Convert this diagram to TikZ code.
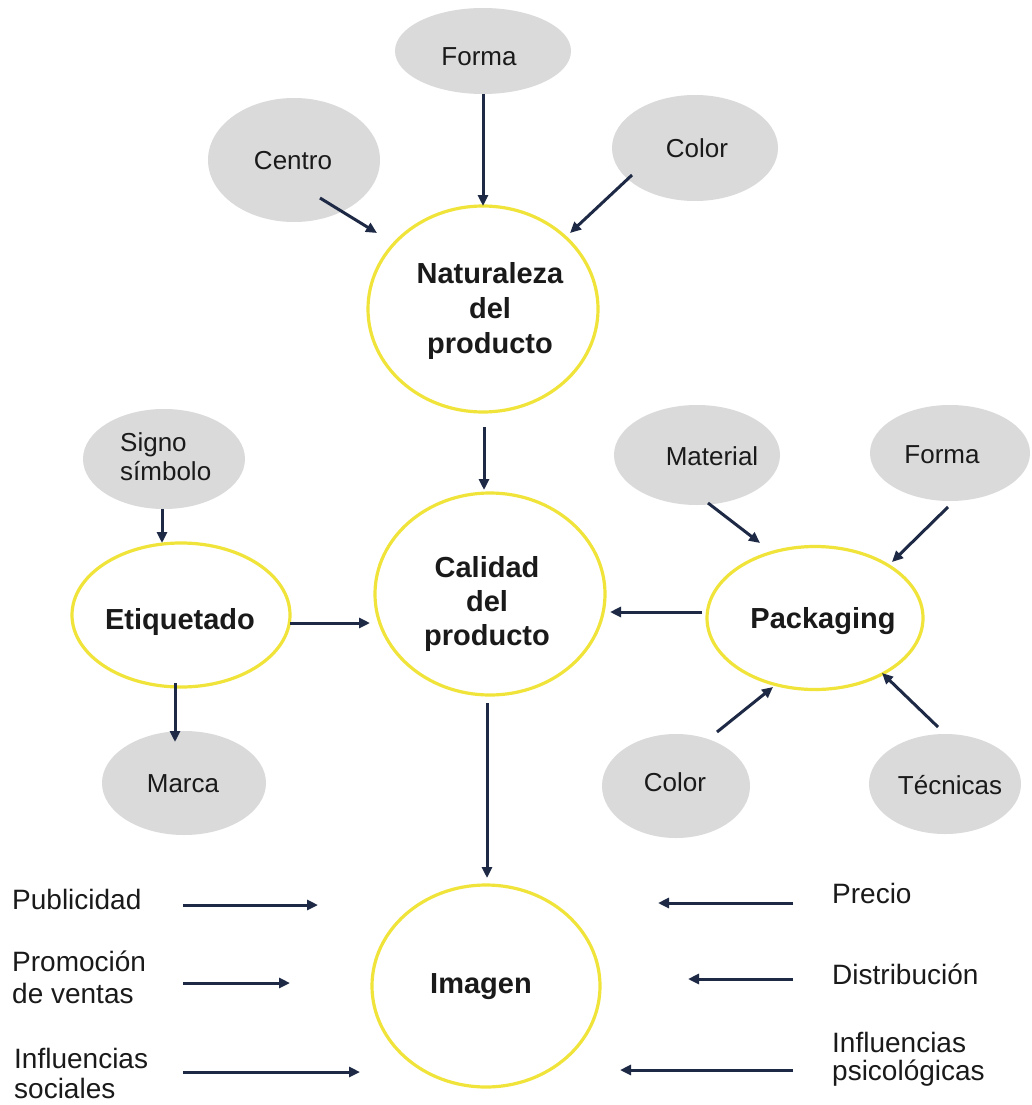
\documentclass[tikz,border=0pt]{standalone}
\usepackage{fontspec}
\setmainfont{Liberation Sans}
\usetikzlibrary{arrows.meta,shapes.geometric}

\definecolor{ringyellow}{HTML}{F0E43A}
\definecolor{bubblegrey}{HTML}{DADADA}
\definecolor{arrownavy}{HTML}{1E2A45}
\definecolor{inkblack}{HTML}{1A1A1A}

\tikzset{
  ring/.style={ellipse, draw=ringyellow, line width=3.2pt, inner sep=0pt, outer sep=0pt},
  bubble/.style={ellipse, fill=bubblegrey, inner sep=0pt, outer sep=0pt},
  arr/.style={draw=arrownavy, line width=3pt, -{Triangle[length=11pt,width=10pt]}},
  lbl/.style={inner sep=0pt, text=inkblack, font=\fontsize{26}{30}\selectfont,
              text height=18.7pt, text depth=0pt},
  lblmulti/.style={inner sep=0pt, text=inkblack, align=left},
  boldlbl/.style={inner sep=0pt, text=inkblack, font=\bfseries\fontsize{29}{35}\selectfont,
                  text height=20.9pt, text depth=0pt},
  boldmulti/.style={inner sep=0pt, text=inkblack, align=center},
  sidelbl/.style={inner sep=0pt, text=inkblack, align=left, anchor=base west}
}

\begin{document}
\begin{tikzpicture}[x=1pt, y=-1pt]
  \useasboundingbox[fill=white] (0,0) rectangle (1031,1105);

  % ---- main rings ----
  \node[ring, minimum width=230pt, minimum height=206pt] (nat)  at (483,309) {};
  \node[ring, minimum width=230pt, minimum height=202pt] (cal)  at (490,594) {};
  \node[ring, minimum width=218pt, minimum height=144pt] (etiq) at (181,615) {};
  \node[ring, minimum width=216pt, minimum height=143pt] (pack) at (815,618) {};
  \node[ring, minimum width=228pt, minimum height=202pt] (img)  at (486,986) {};

  % ---- grey bubbles ----
  \node[bubble, minimum width=176pt, minimum height=86pt]  (formaT)    at (483,51)  {};
  \node[bubble, minimum width=172pt, minimum height=124pt] (centroE)   at (294,160) {};
  \node[bubble, minimum width=166pt, minimum height=106pt] (colorT)    at (695,148) {};
  \node[bubble, minimum width=162pt, minimum height=100pt] (signoE)    at (164,459) {};
  \node[bubble, minimum width=164pt, minimum height=104pt] (marcaE)    at (184,783) {};
  \node[bubble, minimum width=166pt, minimum height=100pt] (materialE) at (697,455) {};
  \node[bubble, minimum width=160pt, minimum height=96pt]  (formaR)    at (950,453) {};
  \node[bubble, minimum width=148pt, minimum height=104pt] (colorB)    at (676,786) {};
  \node[bubble, minimum width=152pt, minimum height=100pt] (tecE)      at (945,784) {};

  % ---- bubble texts ----
  \node[lbl] (formaTt)  at (479,56)  {Forma};
  \node[lbl] (centroT)  at (293,160) {Centro};
  \node[lbl] (colorTt)  at (697,148) {Color};
  \node[lblmulti, anchor=base west, font=\fontsize{26}{29}\selectfont] (signoT) at (120,480) {Signo\\símbolo};
  \node[lbl] (marcaT)   at (183,783) {Marca};
  \node[lbl] (materialT) at (712,456) {Material};
  \node[lbl] (formaRt)  at (942,454) {Forma};
  \node[lbl] (colorBt)  at (675,782) {Color};
  \node[lbl] (tecT)     at (950,785) {Técnicas};

  % ---- ring texts ----
  \node[boldmulti, anchor=base, font=\bfseries\fontsize{29}{35}\selectfont] (natT) at (490,353) {Naturaleza\\del\\producto};
  \node[boldmulti, anchor=base, font=\bfseries\fontsize{29}{34}\selectfont] (calT) at (487,645) {Calidad\\del\\producto};
  \node[boldlbl] (etiqT) at (180,619) {Etiquetado};
  \node[boldlbl] (packT) at (823,618) {Packaging};
  \node[boldlbl] (imgT)  at (481,983) {Imagen};

  % ---- side factors around the image ----
  \node[sidelbl, font=\fontsize{28}{32}\selectfont] (pub)    at (12,909)   {Publicidad};
  \node[sidelbl, font=\fontsize{28}{32}\selectfont] (prom)   at (12,1003)  {Promoción\\de ventas};
  \node[sidelbl, font=\fontsize{28}{30}\selectfont] (soc)    at (14,1098)  {Influencias\\sociales};
  \node[sidelbl, font=\fontsize{28}{32}\selectfont] (precio) at (832,903)  {Precio};
  \node[sidelbl, font=\fontsize{28}{32}\selectfont] (distr)  at (832,984)  {Distribución};
  \node[sidelbl, font=\fontsize{28}{28}\selectfont] (psico)  at (832,1080) {Influencias\\psicológicas};

  % ---- connectors: nature of the product ----
  \draw[arr] (formaT.south) -- (nat.north);
  \draw[arr] ([shift={(26,38)}]centroE.center) -- ([shift={(-106,-76)}]nat.center);
  \draw[arr] ([shift={(-63,27)}]colorT.center) -- ([shift={(87,-76)}]nat.center);
  \draw[arr] ([shift={(1,118)}]nat.center) -- ([shift={(-6,-104)}]cal.center);

  % ---- connectors: labelling ----
  \draw[arr] ([shift={(-2,50)}]signoE.center) -- ([shift={(-19,-72)}]etiq.center);
  \draw[arr] ([shift={(-6,68)}]etiq.center) -- ([shift={(-9,-41)}]marcaE.center);
  \draw[arr] ([shift={(109,8)}]etiq.center) -- ([shift={(-120,29)}]cal.center);

  % ---- connectors: packaging ----
  \draw[arr] ([shift={(-113,-6)}]pack.center) -- ([shift={(120,18)}]cal.center);
  \draw[arr] ([shift={(11,48)}]materialE.center) -- ([shift={(-55,-75)}]pack.center);
  \draw[arr] ([shift={(-2,54)}]formaR.center) -- ([shift={(77,-56)}]pack.center);
  \draw[arr] ([shift={(41,-54)}]colorB.center) -- ([shift={(-42,69)}]pack.center);
  \draw[arr] ([shift={(-7,-57)}]tecE.center) -- ([shift={(67,55)}]pack.center);

  % ---- connectors: towards the image ----
  \draw[arr] ([shift={(-3,109)}]cal.center) -- ([shift={(1,-108)}]img.center);
  \draw[arr] ([shift={(171,-4)}]pub.base west)   -- ([shift={(-168,-81)}]img.center);
  \draw[arr] ([shift={(171,-20)}]prom.base west) -- ([shift={(-196,-3)}]img.center);
  \draw[arr] ([shift={(169,-26)}]soc.base west)  -- ([shift={(-126,86)}]img.center);
  \draw[arr] ([shift={(-39,0)}]precio.base west) -- ([shift={(172,-83)}]img.center);
  \draw[arr] ([shift={(-39,-5)}]distr.base west) -- ([shift={(202,-7)}]img.center);
  \draw[arr] ([shift={(-39,-10)}]psico.base west) -- ([shift={(134,84)}]img.center);
\end{tikzpicture}
\end{document}
